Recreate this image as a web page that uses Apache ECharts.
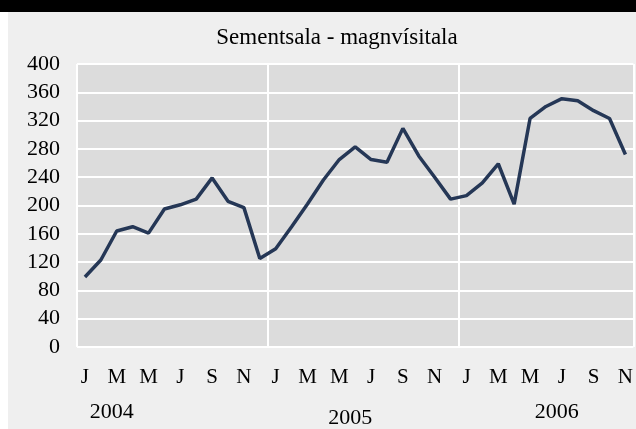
<!DOCTYPE html>
<html>
<head>
<meta charset="utf-8">
<script src="https://cdn.jsdelivr.net/npm/echarts@6/dist/echarts.min.js"></script>
<style>
  html, body { margin: 0; padding: 0; background: #ffffff; }
  #topbar { position: absolute; left: 0; top: 0; width: 636px; height: 12px; background: #000000; }
  #chart { position: absolute; left: 8px; top: 12px; width: 628px; height: 417px; }
</style>
</head>
<body>
<div id="topbar"></div>
<div id="chart"></div>
<script>
// gögn
const title = 'Sementsala - magnvísitala';
const years = ['2004', '2005', '2006'];
const monthInitials = ['J', 'F', 'M', 'A', 'M', 'J', 'J', 'A', 'S', 'O', 'N', 'D'];
const values2004 = [99, 123, 164, 170, 161, 195, 201, 209, 239, 206, 197, 125];
const values2005 = [139, 170, 202, 236, 265, 283, 265, 261, 309, 270, 240, 209];
const values2006 = [214, 232, 259, 202, 323, 340, 351, 348, 334, 323, 272];
const yTicks = [0, 40, 80, 120, 160, 200, 240, 280, 320, 360, 400];

const seriesValues = [values2004, values2005, values2006];
let categories = [];
let values = [];
seriesValues.forEach(function (arr, y) {
    arr.forEach(function (v, m) {
        categories.push(monthInitials[m] + ' ' + years[y]);
        values.push(v);
    });
});

// hvar ártalið er skrifað undir ásnum (eins og í Excel myndinni)
const yearLabelAt = {2: '2004', 17: '2005', 30: '2006'};

const font = '"Liberation Serif", "Times New Roman", serif';

let chart = echarts.init(document.getElementById('chart'), null, {width: 628, height: 417});
let option = {
    backgroundColor: '#efefef',
    animation: false,
    title: {
        text: title,
        left: 324,
        top: 9,
        textAlign: 'center',
        textStyle: {
            fontFamily: font,
            fontSize: 23,
            fontWeight: 'normal',
            color: '#000000'
        }
    },
    grid: {
        left: 69,
        right: 2,
        top: 52,
        bottom: 81,
        show: true,
        backgroundColor: '#dcdcdc',
        borderWidth: 0
    },
    xAxis: [
        {
            type: 'category',
            data: categories,
            boundaryGap: true,
            axisLine: {show: false},
            axisTick: {show: false},
            axisLabel: {
                interval: 1,
                margin: 20,
                fontFamily: font,
                fontSize: 21,
                color: '#000000',
                formatter: function (v) { return v.split(' ')[0]; }
            },
            splitLine: {
                show: true,
                interval: function (i) { return i === 0 || i === 12 || i === 24; },
                lineStyle: {color: '#ffffff', width: 2}
            }
        },
        {
            type: 'category',
            data: categories,
            position: 'bottom',
            boundaryGap: true,
            axisLine: {show: false},
            axisTick: {show: false},
            splitLine: {show: false},
            axisLabel: {
                interval: function (i) { return yearLabelAt[i] !== undefined; },
                margin: 54,
                fontFamily: font,
                fontSize: 22,
                color: '#000000',
                formatter: function (v, i) {
                    let y = yearLabelAt[i];
                    if (y === undefined) return '';
                    return y === '2005' ? '{low|' + y + '}' : '{n|' + y + '}';
                },
                rich: {
                    n: {fontFamily: font, fontSize: 22, color: '#000000', padding: [0, 10, 0, 0]},
                    low: {fontFamily: font, fontSize: 22, color: '#000000', padding: [6, 10, 0, 0]}
                }
            }
        }
    ],
    yAxis: {
        type: 'value',
        min: yTicks[0],
        max: yTicks[yTicks.length - 1],
        interval: yTicks[1] - yTicks[0],
        axisLine: {show: false},
        axisTick: {show: false},
        axisLabel: {
            margin: 17,
            fontFamily: font,
            fontSize: 22,
            color: '#000000'
        },
        splitLine: {
            show: true,
            lineStyle: {color: '#ffffff', width: 2}
        }
    },
    series: [{
        name: title,
        type: 'line',
        xAxisIndex: 0,
        data: values,
        symbol: 'none',
        lineStyle: {color: '#253756', width: 3.5},
        itemStyle: {color: '#253756'}
    }]
};
chart.setOption(option);
</script>
</body>
</html>
